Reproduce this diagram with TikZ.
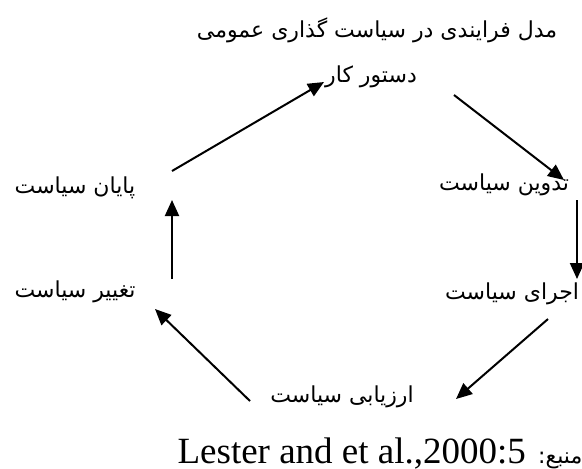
\documentclass[tikz,border=0pt]{standalone}
\usepackage{fontspec}
\setmainfont{Liberation Serif}
\newfontfamily\arabicfont[Script=Arabic]{DejaVu Sans}
\TeXXeTstate=1
\usetikzlibrary{arrows.meta}

\begin{document}
\begin{tikzpicture}[x=0.5pt,y=-0.5pt,
  every node/.style={inner sep=0pt},
  stage/.style={font=\arabicfont\fontsize{11}{13}\selectfont},
  flow/.style={line width=1pt,-{Triangle[length=8pt,width=7pt]}}]
  \useasboundingbox (0,0) rectangle (582,468);

  % Nodes
  \node[stage] (title) at (377,30) {\beginR مدل فرایندی در سیاست گذاری عمومی\endR};
  \node[stage] (agenda) at (371,77) {\beginR دستور کار\endR};
  \node[stage] (formulation) at (504,185) {\beginR تدوین سیاست\endR};
  \node[stage] (implementation) at (512,294) {\beginR اجرای سیاست\endR};
  \node[stage] (evaluation) at (342,397) {\beginR ارزیابی سیاست\endR};
  \node[stage] (change) at (75,292) {\beginR تغییر سیاست\endR};
  \node[stage] (termination) at (75,188) {\beginR پایان سیاست\endR};
  \node[font=\fontsize{18.5}{20}\selectfont] (source) at (380,453)
    {\beginR{\arabicfont\fontsize{11}{13}\selectfont منبع:} \beginL Lester and et al.,2000:5\endL\endR};

  % Arrows
  \draw[flow] ([shift={(83,18)}]agenda.center) -- ([shift={(60,-5)}]formulation.center);
  \draw[flow] ([shift={(73,15)}]formulation.center) -- ([shift={(65,-15)}]implementation.center);
  \draw[flow] ([shift={(36,25)}]implementation.center) -- ([shift={(114,2)}]evaluation.center);
  \draw[flow] ([shift={(-92,4)}]evaluation.center) -- ([shift={(80,17)}]change.center);
  \draw[flow] ([shift={(97,-13)}]change.center) -- ([shift={(97,12)}]termination.center);
  \draw[flow] ([shift={(97,-17)}]termination.center) -- ([shift={(-47,5)}]agenda.center);
\end{tikzpicture}
\end{document}
